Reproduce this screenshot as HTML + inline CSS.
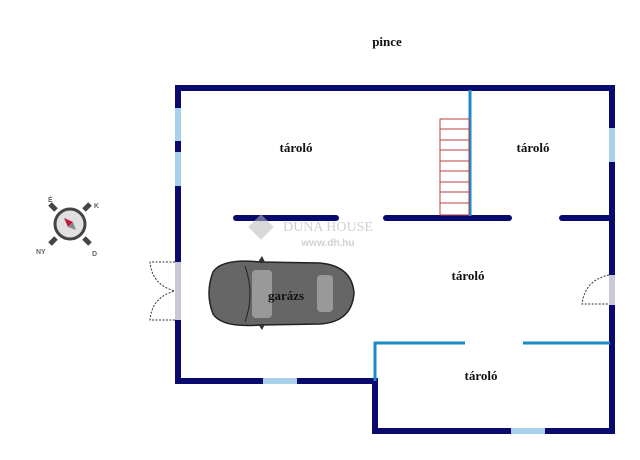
<!DOCTYPE html>
<html><head><meta charset="utf-8"><style>
html,body{margin:0;padding:0;background:#fff;width:640px;height:460px;overflow:hidden}
svg{display:block}
text{font-family:"Liberation Serif",serif;font-weight:bold;font-size:13px;fill:#111}
</style></head><body>
<svg width="640" height="460" viewBox="0 0 640 460">
<text x="387" y="46" text-anchor="middle">pince</text>
<g stroke="#0a0a6e" stroke-width="6" fill="none" stroke-linecap="square">
<path d="M178 88 H612 V431 H375 V381 H178 Z"/>
</g>
<g fill="#a8d0ea">
<rect x="175" y="108" width="6" height="33"/>
<rect x="175" y="152" width="6" height="34"/>
<rect x="609" y="128" width="6" height="34"/>
<rect x="263" y="378" width="34" height="6"/>
<rect x="511" y="428" width="34" height="6"/>
</g>
<rect x="175" y="262" width="6" height="58" fill="#c8c8d8"/>
<rect x="609" y="275" width="6" height="30" fill="#c8c8d8"/>
<g stroke="#333" stroke-width="1" stroke-dasharray="2,1.5" fill="none">
<path d="M175 262 H150 Q152 285 175 291 M175 320 H150 Q152 297 175 291"/>
<path d="M609 275 Q585 280 582 304 H609"/>
</g>
<g stroke="#0a0a6e" stroke-width="6" stroke-linecap="round">
<line x1="236" y1="218" x2="336" y2="218"/>
<line x1="386" y1="218" x2="509" y2="218"/>
<line x1="562" y1="218" x2="612" y2="218"/>
</g>
<g stroke="#1a8ac8" stroke-width="3">
<line x1="470" y1="90" x2="470" y2="216"/>
<path d="M375 381 V343 H465" fill="none"/>
<line x1="523" y1="343" x2="610" y2="343"/>
</g>
<g stroke="#b84040" stroke-width="1" fill="none">
<rect x="440" y="119" width="29" height="96"/>
<path d="M440 129H469M440 140H469M440 150H469M440 161H469M440 171H469M440 182H469M440 192H469M440 203H469"/>
</g>
<g opacity="0.55">
<rect x="252" y="218" width="18" height="18" transform="rotate(45 261 227)" fill="#bbb"/>
<text x="328" y="231" text-anchor="middle" style="fill:#aaa;font-weight:normal;font-size:14px">DUNA HOUSE</text>
<text x="328" y="246" text-anchor="middle" style="fill:#aaa;font-size:10px;font-family:'Liberation Sans',sans-serif">www.dh.hu</text>
</g>
<g>
<path d="M213 272 Q222 258 260 262 L320 263 Q352 266 354 293 Q352 322 320 324 L260 325 Q222 328 213 314 Q205 293 213 272Z" fill="#666" stroke="#222" stroke-width="1.5"/>
<path d="M245 266 Q255 294 245 322" stroke="#222" fill="none"/>
<rect x="252" y="270" width="20" height="48" fill="#999" rx="4"/>
<rect x="317" y="275" width="16" height="37" fill="#999" rx="4"/>
<path d="M258 262 L262 256 L265 262 M258 324 L262 330 L265 324" fill="#333"/>
</g>
<text x="286" y="300" text-anchor="middle">garázs</text>
<text x="296" y="152" text-anchor="middle">tároló</text>
<text x="533" y="152" text-anchor="middle">tároló</text>
<text x="468" y="280" text-anchor="middle">tároló</text>
<text x="481" y="380" text-anchor="middle">tároló</text>
<g transform="translate(70,224)">
<path d="M-14 -14 L-20 -20 M14 -14 L20 -20 M-14 14 L-20 20 M14 14 L20 20" stroke="#444" stroke-width="5"/>
<circle r="15" fill="#e0e0e0" stroke="#444" stroke-width="3"/>
<path d="M-6 -6 L3 -2 L-2 3Z" fill="#c0183a"/>
<path d="M6 6 L-2 3 L3 -2Z" fill="#888"/>
<text x="-22" y="-22" style="font-size:7px;fill:#666;font-family:'Liberation Sans',sans-serif">É</text>
<text x="24" y="-16" style="font-size:7px;fill:#666;font-family:'Liberation Sans',sans-serif">K</text>
<text x="-34" y="30" style="font-size:7px;fill:#666;font-family:'Liberation Sans',sans-serif">NY</text>
<text x="22" y="32" style="font-size:7px;fill:#666;font-family:'Liberation Sans',sans-serif">D</text>
</g>
</svg>
</body></html>
